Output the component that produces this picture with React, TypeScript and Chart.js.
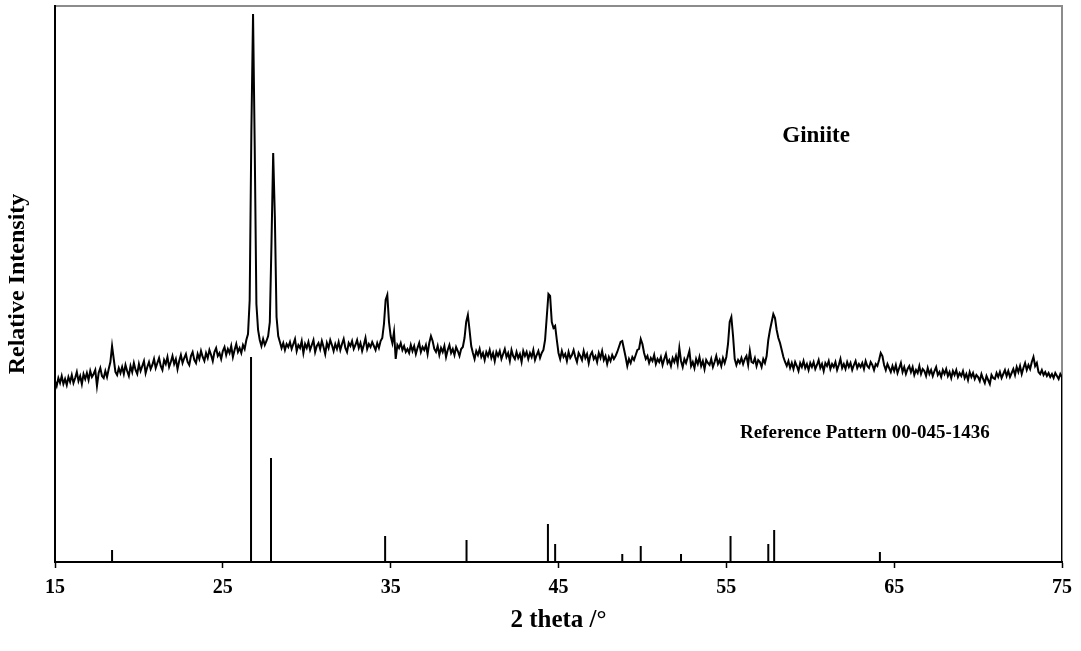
import React, { useEffect, useRef } from 'react';
import { Chart, registerables } from 'chart.js';

Chart.register(...registerables);

// ---- Data ----
// Measured scan: 2θ start / step and relative counts (one row per degree)
const scanStart = 15;
const scanStep = 0.1;
const scanEnd = 75;
const counts = [
  181, 176, 184, 179, 186, 178, 183, 177, 185, 180,
  187, 179, 184, 190, 181, 186, 178, 188, 183, 189,
  182, 191, 185, 188, 192, 176, 189, 194, 186, 184,
  191, 185, 193, 200, 216, 203, 190, 187, 194, 189,
  195, 188, 197, 191, 186, 196, 190, 199, 192, 188,
  198, 191, 196, 201, 189, 195, 200, 193, 197, 203,
  194, 199, 204, 196, 192, 202, 198, 205, 195, 200,
  206, 198, 203, 193, 201, 207, 199, 204, 208, 200,
  197, 206, 210, 202, 199, 208, 203, 211, 205, 201,
  209, 204, 212, 207, 201, 210, 214, 206, 209, 203,
  211, 215, 207, 213, 209, 216, 205, 212, 218, 210,
  214, 209, 217, 213, 222, 228, 262, 430, 548, 415,
  258, 232, 222, 216, 223, 217, 221, 226, 240, 320,
  409, 345, 245, 226, 220, 214, 219, 212, 218, 215,
  220, 213, 218, 223, 211, 217, 214, 221, 209, 218,
  214, 220, 212, 217, 222, 210, 216, 219, 213, 221,
  215, 208, 219, 214, 222, 217, 211, 218, 213, 220,
  212, 218, 223, 214, 210, 219, 216, 221, 213, 217,
  222, 214, 219, 211, 217, 224, 213, 218, 215, 220,
  216, 212, 219, 214, 221, 224, 238, 262, 267, 240,
  226, 219, 230, 203, 217, 214, 219, 212, 216, 210,
  213, 209, 217, 211, 216, 208, 214, 219, 210, 215,
  212, 217, 208, 219, 226, 221, 213, 210, 216, 207,
  214, 210, 216, 205, 212, 217, 209, 213, 207, 215,
  211, 206, 213, 215, 224, 240, 247, 232, 216, 209,
  203, 211, 207, 213, 205, 209, 202, 210, 206, 212,
  204, 209, 201, 210, 206, 211, 203, 208, 213, 205,
  209, 201, 212, 206, 203, 210, 204, 208, 200, 211,
  206, 210, 203, 209, 205, 212, 202, 207, 211, 204,
  209, 212, 222, 245, 268, 266, 240, 234, 236, 222,
  209, 203, 211, 205, 208, 201, 210, 204, 207, 212,
  205, 200, 209, 206, 202, 211, 204, 208, 199, 207,
  210, 203, 206, 200, 209, 204, 211, 202, 206, 198,
  205, 201, 207, 203, 206, 210, 215, 220, 221, 213,
  205, 196, 203, 199, 205, 202, 207, 212, 213, 223,
  218, 209, 203, 206, 199, 204, 201, 207, 198, 203,
  200, 205, 197, 203, 208, 199, 202, 196, 204, 200,
  206, 198, 214, 201, 195, 203, 199, 205, 211, 196,
  200, 194, 203, 198, 205, 196, 201, 193, 202, 199,
  197, 203, 195, 200, 206, 198, 202, 196, 204, 199,
  205, 218, 240, 245, 226, 203, 197, 202, 199, 204,
  198, 203, 206, 197, 211, 200, 199, 204, 196, 202,
  200, 195, 203, 199, 206, 222, 232, 240, 248, 244,
  232, 224, 219, 212, 205, 200, 196, 201, 194, 199,
  193, 200, 196, 191, 199, 195, 201, 194, 198, 192,
  199, 195, 200, 193, 197, 202, 194, 198, 191, 199,
  196, 201, 193, 198, 195, 200, 192, 197, 203, 194,
  198, 193, 200, 195, 199, 192, 197, 201, 194, 198,
  195, 199, 193, 201, 196, 194, 200, 197, 192, 198,
  196, 202, 209, 206, 197, 192, 198, 194, 190, 196,
  191, 197, 189, 194, 199, 190, 195, 188, 193, 196,
  190, 195, 187, 192, 189, 196, 188, 193, 191, 186,
  194, 188, 192, 186, 191, 195, 187, 190, 185, 192,
  188, 193, 186, 190, 184, 191, 187, 192, 185, 189,
  186, 191, 184, 188, 182, 190, 185, 189, 183, 187,
  185, 181, 188, 183, 179, 186, 182, 178, 187, 184,
  183, 189, 185, 190, 184, 188, 192, 186, 191, 185,
  189, 193, 187, 195, 190, 196, 188, 194, 199, 192,
  197, 193, 200, 205, 196, 199, 190, 188, 192, 187,
  190, 186, 189, 185, 188, 184, 189, 186, 183, 188,
  185,
];
const scanTailValue = 0;

// Reference pattern 00-045-1436 (stick positions and relative heights)
const refTheta = [18.4, 26.68, 27.87, 34.67, 39.52, 44.37, 44.8, 48.8, 49.9, 52.3, 55.25, 57.5, 57.85, 64.15];
const refHeight = [12, 205, 104, 26, 22, 38, 18, 8, 16, 8, 26, 18, 32, 10];

// Axis settings
const xMin = 15;
const xMax = 75;
const xStep = 10;
const yMin = 0;
const yMax = 556;

const xTitle = '2 theta /\u00b0';
const yTitle = 'Relative Intensity';
const labelSample = 'Giniite';
const labelReference = 'Reference Pattern 00-045-1436';
const labelSampleAt = { x: 60.35, y: 426 };
const labelReferenceAt = { x: 63.26, y: 129 };

const FONT = "'Liberation Serif', 'Times New Roman', Times, serif";

export default function App() {
  const ref = useRef<HTMLCanvasElement>(null);

  useEffect(() => {
    document.body.style.margin = '0';
    const trace = counts.map((v, i) => ({ x: +(scanStart + i * scanStep).toFixed(2), y: v }));
    trace.push({ x: scanEnd, y: scanTailValue });
    const sticks: { x: number; y: number }[] = [];
    refTheta.forEach((t, i) => {
      sticks.push({ x: t, y: 0 }, { x: t, y: refHeight[i] }, { x: t, y: 0 });
    });

    const boxAndLabels = {
      id: 'boxAndLabels',
      beforeDraw(chart: any) {
        const { ctx, chartArea: a } = chart;
        ctx.save();
        ctx.strokeStyle = '#8c8c8c';
        ctx.lineWidth = 2;
        ctx.strokeRect(a.left, a.top, a.right - a.left, a.bottom - a.top);
        ctx.restore();
      },
      afterDatasetsDraw(chart: any) {
        const { ctx } = chart;
        const xs = chart.scales.x;
        const ys = chart.scales.y;
        ctx.save();
        ctx.fillStyle = '#000';
        ctx.textAlign = 'center';
        ctx.textBaseline = 'middle';
        ctx.font = `bold 23px ${FONT}`;
        ctx.fillText(labelSample, xs.getPixelForValue(labelSampleAt.x), ys.getPixelForValue(labelSampleAt.y));
        ctx.font = `bold 19px ${FONT}`;
        ctx.fillText(labelReference, xs.getPixelForValue(labelReferenceAt.x), ys.getPixelForValue(labelReferenceAt.y));
        ctx.restore();
      },
    };

    const chart = new Chart(ref.current as HTMLCanvasElement, {
      type: 'line',
      data: {
        datasets: [
          {
            data: trace,
            borderColor: '#000',
            borderWidth: 2,
            pointRadius: 0,
            tension: 0,
            fill: false,
          },
          {
            data: sticks,
            borderColor: '#000',
            borderWidth: 2,
            pointRadius: 0,
            tension: 0,
            fill: false,
          },
        ],
      },
      options: {
        animation: false,
        responsive: false,
        events: [],
        layout: { padding: { top: 6, right: 19, left: 0, bottom: 0 } },
        plugins: { legend: { display: false }, tooltip: { enabled: false } },
        scales: {
          x: {
            type: 'linear',
            min: xMin,
            max: xMax,
            ticks: {
              stepSize: xStep,
              autoSkip: false,
              maxRotation: 0,
              color: '#000',
              padding: 8,
              font: { family: FONT, size: 20, weight: 'bold' },
            },
            grid: {
              drawOnChartArea: false,
              drawTicks: true,
              tickLength: 6,
              tickColor: '#000',
              tickWidth: 1.5,
            },
            border: { display: true, color: '#000', width: 2 },
            title: {
              display: true,
              text: xTitle,
              color: '#000',
              font: { family: FONT, size: 25, weight: 'bold' },
              padding: { top: 0, bottom: 15 },
            },
            afterFit: (s: any) => {
              s.height = 89;
            },
          },
          y: {
            type: 'linear',
            min: yMin,
            max: yMax,
            ticks: { display: false },
            grid: { display: false },
            border: { display: true, color: '#000', width: 2 },
            title: {
              display: true,
              text: yTitle,
              color: '#000',
              font: { family: FONT, size: 24, weight: 'bold' },
              padding: { top: 3.6, bottom: 0 },
            },
            afterFit: (s: any) => {
              s.width = 55;
            },
          },
        },
      },
      plugins: [boxAndLabels],
    } as any);

    return () => chart.destroy();
  }, []);

  return (
    <div style={{ width: 1081, height: 651, background: '#fff' }}>
      <canvas ref={ref} width={1081} height={651} style={{ display: 'block' }} />
    </div>
  );
}
